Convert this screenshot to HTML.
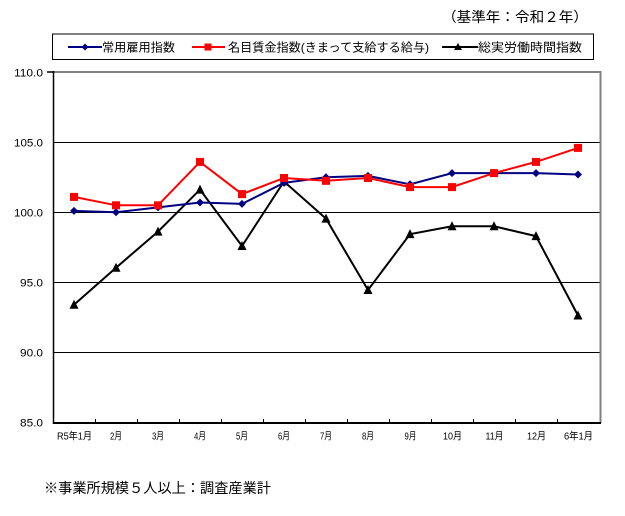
<!DOCTYPE html>
<html>
<head>
<meta charset="utf-8">
<style>
html,body{margin:0;padding:0;background:#fff;}
svg{display:block;}
text{font-family:"Liberation Sans","Noto Sans CJK JP",sans-serif;fill:#000;}
</style>
</head>
<body>
<svg width="625" height="516" viewBox="0 0 625 516" xmlns="http://www.w3.org/2000/svg">
<rect x="0" y="0" width="625" height="516" fill="#fff"/>

<!-- header -->
<text x="442" y="22" font-size="14" textLength="146" lengthAdjust="spacingAndGlyphs">（基準年：令和２年）</text>

<!-- legend -->
<rect x="52.5" y="34" width="541" height="25.5" fill="#fff" stroke="#000" stroke-width="1"/>
<line x1="68" y1="47" x2="102" y2="47" stroke="#000080" stroke-width="2"/>
<polygon points="85,43.5 88.5,47 85,50.5 81.5,47" fill="#000080"/>
<text x="102" y="51.5" font-size="12" textLength="73" lengthAdjust="spacingAndGlyphs">常用雇用指数</text>
<line x1="192" y1="47" x2="225" y2="47" stroke="#ff0000" stroke-width="2"/>
<rect x="204.5" y="43.5" width="7" height="7" fill="#ff0000"/>
<text x="228" y="51.5" font-size="12" textLength="201" lengthAdjust="spacingAndGlyphs">名目賃金指数(きまって支給する給与)</text>
<line x1="442" y1="47" x2="478" y2="47" stroke="#000" stroke-width="2"/>
<polygon points="458,43 462,50 454,50" fill="#000"/>
<text x="478" y="51.5" font-size="12" textLength="104" lengthAdjust="spacingAndGlyphs">総実労働時間指数</text>

<!-- gridlines -->
<g stroke="#000" stroke-width="1">
<line x1="54" y1="142.5" x2="600" y2="142.5"/>
<line x1="54" y1="212.5" x2="600" y2="212.5"/>
<line x1="54" y1="282.5" x2="600" y2="282.5"/>
<line x1="54" y1="352.5" x2="600" y2="352.5"/>
</g>

<!-- frame -->
<line x1="53.5" y1="72" x2="601" y2="72" stroke="#808080" stroke-width="2"/>
<line x1="600.5" y1="71" x2="600.5" y2="423" stroke="#808080" stroke-width="2"/>
<line x1="47" y1="72" x2="54" y2="72" stroke="#000" stroke-width="1.5"/>
<line x1="53.5" y1="71" x2="53.5" y2="424" stroke="#000" stroke-width="1.5"/>
<line x1="53" y1="423" x2="601" y2="423" stroke="#000" stroke-width="2"/>

<!-- x ticks (inward) -->
<g stroke="#000" stroke-width="1">
<line x1="95.5" y1="419" x2="95.5" y2="423"/>
<line x1="137.5" y1="419" x2="137.5" y2="423"/>
<line x1="179.5" y1="419" x2="179.5" y2="423"/>
<line x1="221.5" y1="419" x2="221.5" y2="423"/>
<line x1="263.5" y1="419" x2="263.5" y2="423"/>
<line x1="305.5" y1="419" x2="305.5" y2="423"/>
<line x1="347.5" y1="419" x2="347.5" y2="423"/>
<line x1="389.5" y1="419" x2="389.5" y2="423"/>
<line x1="431.5" y1="419" x2="431.5" y2="423"/>
<line x1="473.5" y1="419" x2="473.5" y2="423"/>
<line x1="515.5" y1="419" x2="515.5" y2="423"/>
<line x1="557.5" y1="419" x2="557.5" y2="423"/>
</g>

<!-- y labels -->
<g font-size="11" text-anchor="end">
<text x="43" y="76.5" textLength="29" lengthAdjust="spacingAndGlyphs">110.0</text>
<text x="43" y="146.5" textLength="29" lengthAdjust="spacingAndGlyphs">105.0</text>
<text x="43" y="216.5" textLength="29" lengthAdjust="spacingAndGlyphs">100.0</text>
<text x="43" y="286.5" textLength="23" lengthAdjust="spacingAndGlyphs">95.0</text>
<text x="43" y="356.5" textLength="23" lengthAdjust="spacingAndGlyphs">90.0</text>
<text x="43" y="426.5" textLength="23" lengthAdjust="spacingAndGlyphs">85.0</text>
</g>

<!-- x labels -->
<g font-size="10" text-anchor="middle">
<text x="74.5" y="439.5" textLength="35" lengthAdjust="spacingAndGlyphs">R5年1月</text>
<text x="116" y="439.5" textLength="12" lengthAdjust="spacingAndGlyphs">2月</text>
<text x="158" y="439.5" textLength="12" lengthAdjust="spacingAndGlyphs">3月</text>
<text x="200" y="439.5" textLength="12" lengthAdjust="spacingAndGlyphs">4月</text>
<text x="242" y="439.5" textLength="12" lengthAdjust="spacingAndGlyphs">5月</text>
<text x="284" y="439.5" textLength="12" lengthAdjust="spacingAndGlyphs">6月</text>
<text x="326" y="439.5" textLength="12" lengthAdjust="spacingAndGlyphs">7月</text>
<text x="368" y="439.5" textLength="12" lengthAdjust="spacingAndGlyphs">8月</text>
<text x="410.5" y="439.5" textLength="12" lengthAdjust="spacingAndGlyphs">9月</text>
<text x="452.5" y="439.5" textLength="19" lengthAdjust="spacingAndGlyphs">10月</text>
<text x="494.5" y="439.5" textLength="18" lengthAdjust="spacingAndGlyphs">11月</text>
<text x="536.5" y="439.5" textLength="19" lengthAdjust="spacingAndGlyphs">12月</text>
<text x="578.5" y="439.5" textLength="29" lengthAdjust="spacingAndGlyphs">6年1月</text>
</g>

<!-- series: black (総実労働時間指数) -->
<polyline fill="none" stroke="#000" stroke-width="2" stroke-linejoin="miter"
points="74,304.7 116,267.7 158,231.6 200,189.6 242,246.0 284,181.5 326,218.6 368,290.0 410,234.1 452,226.3 494,226.3 536,236.1 578,315.5"/>
<g fill="#000">
<polygon points="74,299.7 78.5,308.7 69.5,308.7"/>
<polygon points="116,262.7 120.5,271.7 111.5,271.7"/>
<polygon points="158,226.6 162.5,235.6 153.5,235.6"/>
<polygon points="200,184.6 204.5,193.6 195.5,193.6"/>
<polygon points="242,241.0 246.5,250.0 237.5,250.0"/>
<polygon points="284,176.5 288.5,185.5 279.5,185.5"/>
<polygon points="326,213.6 330.5,222.6 321.5,222.6"/>
<polygon points="368,285.0 372.5,294.0 363.5,294.0"/>
<polygon points="410,229.1 414.5,238.1 405.5,238.1"/>
<polygon points="452,221.3 456.5,230.3 447.5,230.3"/>
<polygon points="494,221.3 498.5,230.3 489.5,230.3"/>
<polygon points="536,231.1 540.5,240.1 531.5,240.1"/>
<polygon points="578,310.5 582.5,319.5 573.5,319.5"/>
</g>

<!-- series: blue (常用雇用指数) -->
<polyline fill="none" stroke="#000080" stroke-width="2"
points="74,210.9 116,212.3 158,207.4 200,202.5 242,203.9 284,182.9 326,177.3 368,175.9 410,184.3 452,173.1 494,173.1 536,173.1 578,174.5"/>
<g fill="#000080">
<polygon points="74,206.9 78,210.9 74,214.9 70,210.9"/>
<polygon points="116,208.3 120,212.3 116,216.3 112,212.3"/>
<polygon points="158,203.4 162,207.4 158,211.4 154,207.4"/>
<polygon points="200,198.5 204,202.5 200,206.5 196,202.5"/>
<polygon points="242,199.9 246,203.9 242,207.9 238,203.9"/>
<polygon points="284,178.9 288,182.9 284,186.9 280,182.9"/>
<polygon points="326,173.3 330,177.3 326,181.3 322,177.3"/>
<polygon points="368,171.9 372,175.9 368,179.9 364,175.9"/>
<polygon points="410,180.3 414,184.3 410,188.3 406,184.3"/>
<polygon points="452,169.1 456,173.1 452,177.1 448,173.1"/>
<polygon points="494,169.1 498,173.1 494,177.1 490,173.1"/>
<polygon points="536,169.1 540,173.1 536,177.1 532,173.1"/>
<polygon points="578,170.5 582,174.5 578,178.5 574,174.5"/>
</g>

<!-- series: red (名目賃金指数) -->
<polyline fill="none" stroke="#ff0000" stroke-width="2"
points="74,196.9 116,205.3 158,205.3 200,161.9 242,194.1 284,178.0 326,180.8 368,178.0 410,187.1 452,187.1 494,173.1 536,161.9 578,147.9"/>
<g fill="#ff0000">
<rect x="70" y="192.9" width="8" height="8"/>
<rect x="112" y="201.3" width="8" height="8"/>
<rect x="154" y="201.3" width="8" height="8"/>
<rect x="196" y="157.9" width="8" height="8"/>
<rect x="238" y="190.1" width="8" height="8"/>
<rect x="280" y="174.0" width="8" height="8"/>
<rect x="322" y="176.8" width="8" height="8"/>
<rect x="364" y="174.0" width="8" height="8"/>
<rect x="406" y="183.1" width="8" height="8"/>
<rect x="448" y="183.1" width="8" height="8"/>
<rect x="490" y="169.1" width="8" height="8"/>
<rect x="532" y="157.9" width="8" height="8"/>
<rect x="574" y="143.9" width="8" height="8"/>
</g>

<!-- footer -->
<text x="44" y="493" font-size="14" textLength="227" lengthAdjust="spacingAndGlyphs">※事業所規模５人以上：調査産業計</text>
</svg>
</body>
</html>
